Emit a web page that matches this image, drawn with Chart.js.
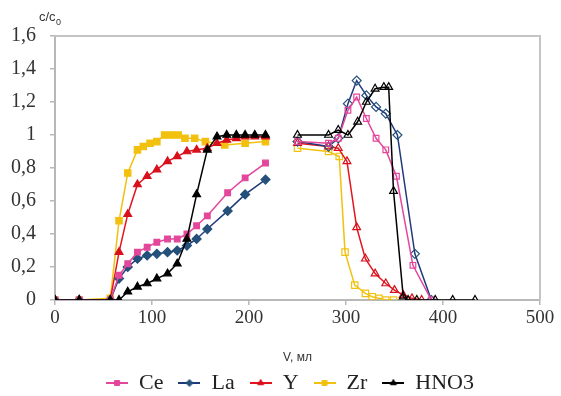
<!DOCTYPE html>
<html><head><meta charset="utf-8">
<script src="https://cdn.jsdelivr.net/npm/chart.js@4"></script>
<style>html,body{margin:0;padding:0;background:#fff}</style>
</head><body>
<canvas id="c" width="561" height="396"></canvas>
<script>
// ---- data (V in ml, c/c0) ----
const seriesNames = ['Ce', 'La', 'Y', 'Zr', 'HNO3'];
const xTicks = [0, 100, 200, 300, 400, 500];
const yTicks = [0, 0.2, 0.4, 0.6, 0.8, 1, 1.2, 1.4, 1.6];

// loading stage (filled markers)
const ceLoadV = [0, 25, 57, 66, 75, 85, 95, 105, 116, 126, 136, 146, 157, 178, 196, 217];
const ceLoadC = [0, 0, 0, 0.15, 0.22, 0.29, 0.32, 0.35, 0.37, 0.37, 0.40, 0.45, 0.51, 0.65, 0.74, 0.83];
const laLoadV = [0, 25, 57, 66, 75, 85, 95, 105, 116, 126, 136, 146, 157, 178, 196, 217];
const laLoadC = [0, 0, 0, 0.13, 0.20, 0.25, 0.27, 0.28, 0.29, 0.30, 0.33, 0.37, 0.43, 0.54, 0.64, 0.73];
const yLoadV = [0, 25, 57, 66, 75, 85, 95, 105, 116, 126, 136, 146, 157, 167, 177, 187, 196, 206, 217];
const yLoadC = [0, 0, 0, 0.29, 0.52, 0.70, 0.75, 0.79, 0.84, 0.87, 0.90, 0.91, 0.92, 0.95, 0.97, 0.98, 0.99, 0.99, 0.99];
const zrLoadV = [0, 25, 57, 66, 75, 85, 91, 98, 105, 113, 120, 127, 134, 144, 155, 175, 196, 217];
const zrLoadC = [0, 0, 0.01, 0.48, 0.77, 0.91, 0.93, 0.95, 0.96, 1.0, 1.0, 1.0, 0.98, 0.98, 0.96, 0.94, 0.95, 0.96];
const hnoLoadV = [0, 25, 57, 66, 75, 85, 95, 105, 116, 126, 136, 146, 157, 167, 177, 187, 196, 206, 217];
const hnoLoadC = [0, 0, 0, 0, 0.05, 0.08, 0.10, 0.13, 0.16, 0.22, 0.37, 0.64, 0.91, 0.99, 1.0, 1.0, 1.0, 1.0, 1.0];

// elution stage (open markers)
const ceElV = [250, 282, 292, 302, 311, 321, 331, 341, 352, 369, 388];
const ceElC = [0.96, 0.95, 0.98, 1.15, 1.23, 1.10, 0.98, 0.91, 0.75, 0.21, 0];
const laElV = [250, 282, 292, 302, 311, 321, 331, 341, 353, 371, 388];
const laElC = [0.96, 0.93, 0.98, 1.19, 1.33, 1.24, 1.17, 1.13, 1.00, 0.28, 0];
const yElV = [250, 282, 292, 301, 311, 320, 330, 341, 350, 359, 368, 378];
const yElC = [0.95, 0.93, 0.92, 0.84, 0.44, 0.25, 0.16, 0.10, 0.06, 0.03, 0.01, 0];
const zrElV = [250, 282, 293, 299, 309, 320, 327, 334, 341, 349];
const zrElC = [0.92, 0.90, 0.87, 0.29, 0.09, 0.04, 0.02, 0.01, 0, 0];
const hnoElV = [250, 282, 292, 302, 312, 321, 330, 339, 344, 349, 359, 364, 373, 392, 410, 433];
const hnoElC = [1.0, 1.0, 1.03, 1.0, 1.08, 1.20, 1.28, 1.29, 1.29, 0.66, 0.02, 0, 0, 0, 0, 0];

const colors = ['#e4469b', '#1f3a7a', '#e3141e', '#f2c10f', '#000000'];
const markerFill = ['#e4469b', '#24507a', '#d8101c', '#f2c10f', '#000000'];
const styles = ['rect', 'rectRot', 'triangle', 'rect', 'triangle'];
const radii = [4, 4.5, 4.5, 4.5, 4.5];

const GAP_V = 235;
function build(lv, lc, ev, ec) {
  const d = lv.map((v, i) => ({x: v, y: lc[i]}));
  d.push({x: GAP_V, y: null});
  ev.forEach((v, i) => d.push({x: v, y: ec[i]}));
  return d;
}
const allData = [
  build(ceLoadV, ceLoadC, ceElV, ceElC),
  build(laLoadV, laLoadC, laElV, laElC),
  build(yLoadV, yLoadC, yElV, yElC),
  build(zrLoadV, zrLoadC, zrElV, zrElC),
  build(hnoLoadV, hnoLoadC, hnoElV, hnoElC)
];
const drawOrder = [2, 3, 4, 5, 1];

function legendIcon(i) {
  const c = document.createElement('canvas');
  c.width = 22; c.height = 14;
  const g = c.getContext('2d');
  g.strokeStyle = colors[i]; g.lineWidth = 2;
  g.beginPath(); g.moveTo(0, 7); g.lineTo(22, 7); g.stroke();
  g.fillStyle = markerFill[i]; g.strokeStyle = markerFill[i]; g.lineWidth = 1;
  Chart.helpers.drawPoint(g, {pointStyle: styles[i], radius: 3.5, rotation: 0, borderWidth: 1}, 11, 7);
  return c;
}

const datasets = seriesNames.map((n, i) => ({
  label: n,
  data: allData[i],
  order: drawOrder[i],
  borderColor: colors[i],
  borderWidth: 1.5,
  pointStyle: styles[i],
  pointRadius: radii[i],
  pointBorderWidth: 1.2,
  pointBorderColor: markerFill[i],
  pointBackgroundColor: ctx => (ctx.raw && ctx.raw.x > GAP_V) ? 'rgba(255,255,255,0)' : markerFill[i],
  spanGaps: false,
  tension: 0
}));

const frame = {
  id: 'frame',
  afterLayout(chart) {
    // centre the legend under the plot like the reference
    if (chart.legend) {
      chart.legend.left += 20; chart.legend.right += 20;
      chart.legend.top -= 8; chart.legend.bottom -= 8;
    }
  },
  afterDraw(chart) {
    const a = chart.chartArea, g = chart.ctx;
    g.save();
    g.strokeStyle = '#c4c4c4'; g.lineWidth = 2;
    g.beginPath();
    g.moveTo(a.left, a.top); g.lineTo(a.right, a.top); g.lineTo(a.right, a.bottom);
    g.stroke();
    g.fillStyle = '#333';
    g.font = '13px "Liberation Sans", Arial, sans-serif';
    g.textBaseline = 'alphabetic';
    g.fillText('c/c', 39, 21);
    const w = g.measureText('c/c').width;
    g.font = '9px "Liberation Sans", Arial, sans-serif';
    g.fillText('0', 39 + w + 0.5, 25);
    g.restore();
  }
};

new Chart(document.getElementById('c'), {
  type: 'line',
  data: {datasets},
  options: {
    responsive: false,
    animation: false,
    layout: {padding: {top: 36, right: 21, left: 0, bottom: -16}},
    plugins: {
      legend: {
        position: 'bottom',
        labels: {
          usePointStyle: true,
          pointStyleWidth: 22,
          padding: 15,
          color: '#222',
          font: {family: '"Liberation Serif", "Times New Roman", serif', size: 22},
          sort: (a, b) => a.datasetIndex - b.datasetIndex,
          generateLabels: chart => seriesNames.map((n, i) => ({
            text: n, datasetIndex: i, pointStyle: legendIcon(i),
            fillStyle: colors[i], strokeStyle: colors[i], lineWidth: 0, hidden: false, fontColor: '#222'
          }))
        }
      },
      tooltip: {enabled: false}
    },
    scales: {
      x: {
        type: 'linear', min: 0, max: 500,
        afterBuildTicks: s => { s.ticks = xTicks.map(v => ({value: v})); },
        afterFit: s => { s.height = 65; },
        grid: {display: true, drawOnChartArea: false, drawTicks: true, tickLength: 5, color: '#b8b8b8', lineWidth: 1.5},
        border: {display: true, color: '#b8b8b8', width: 2},
        ticks: {color: '#333', padding: 2, font: {family: '"Liberation Serif", "Times New Roman", serif', size: 19}},
        title: {display: true, text: 'V, мл', color: '#333', padding: {top: 4, bottom: 0},
                font: {family: '"Liberation Sans", Arial, sans-serif', size: 12}}
      },
      y: {
        type: 'linear', min: 0, max: 1.6,
        afterBuildTicks: s => { s.ticks = yTicks.map(v => ({value: v})); },
        afterFit: s => { s.width = 55; },
        grid: {display: true, drawOnChartArea: false, drawTicks: true, tickLength: 5, color: '#b8b8b8', lineWidth: 1.5},
        border: {display: true, color: '#b8b8b8', width: 2},
        ticks: {color: '#333', padding: 14,
                font: {family: '"Liberation Serif", "Times New Roman", serif', size: 20},
                callback: v => Number(v.toFixed(1)).toString().replace('.', ',')}
      }
    }
  },
  plugins: [frame]
});
</script>
</body></html>
